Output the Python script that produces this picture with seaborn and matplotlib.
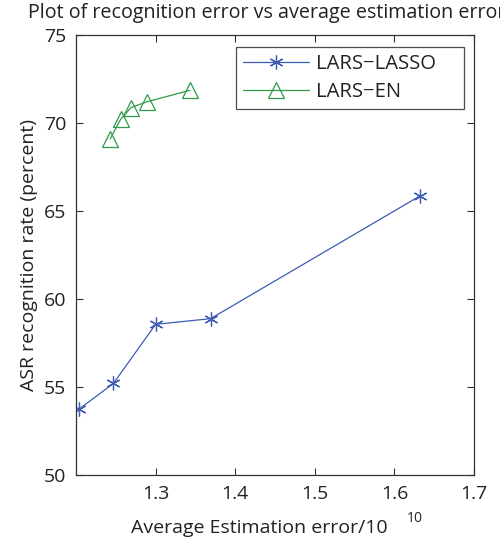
import numpy as np
import pandas as pd
import seaborn as sns
import matplotlib.pyplot as plt

# values
lasso_err = [1.204, 1.247, 1.300, 1.369, 1.632]
lasso_rate = [53.75, 55.2, 58.56, 58.88, 65.85]
en_err = [1.243, 1.256, 1.269, 1.289, 1.343]
en_rate = [69.1, 70.2, 70.87, 71.2, 71.85]
labels = ['LARS\u2212LASSO', 'LARS\u2212EN']

lasso = pd.DataFrame({'err': lasso_err, 'rate': lasso_rate})
en = pd.DataFrame({'err': en_err, 'rate': en_rate})

sns.set_theme(style="ticks")
plt.rcParams['font.family'] = ['Open Sans', 'DejaVu Sans']
plt.rcParams['text.color'] = '#222222'
plt.rcParams['axes.labelcolor'] = '#222222'
plt.rcParams['xtick.color'] = '#333333'
plt.rcParams['ytick.color'] = '#333333'
plt.rcParams['xtick.labelcolor'] = '#222222'
plt.rcParams['ytick.labelcolor'] = '#222222'

blue = '#3d5cb3'
green = '#2f9a4c'

fig = plt.figure(figsize=(5.0, 5.42), dpi=100)
ax = fig.add_axes([0.152, 0.1236, 0.796, 0.812])

sns.lineplot(x='err', y='rate', data=lasso, ax=ax, color=blue, lw=0.9,
             marker=(6, 2, 0), markersize=10, mec=blue, mfc='none', mew=0.9,
             label=labels[0] + '    ')
sns.lineplot(x='err', y='rate', data=en, ax=ax, color=green, lw=0.9,
             marker='^', markersize=11, mec=green, mfc='none', mew=0.9,
             label=labels[1])

ax.set_xlim(1.2, 1.7)
ax.set_ylim(50, 75)
ax.set_xticks([1.3, 1.4, 1.5, 1.6, 1.7])
ax.set_yticks([50, 55, 60, 65, 70, 75])
ax.set_xticklabels(['1.3', '1.4', '1.5', '1.6', '1.7'])
ax.tick_params(direction='in', length=5, width=0.8, labelsize=14,
               top=True, right=True, pad=7)
for s in ax.spines.values():
    s.set_color('#333333')
    s.set_linewidth(0.9)

# title runs slightly past the right edge, as in the original
ax.set_title('Plot of recognition error vs average estimation error',
             fontsize=14.2, pad=12, x=0.479)
ax.set_ylabel('ASR recognition rate (percent)', fontsize=14, labelpad=4)
ax.set_xlabel('Average Estimation error/10', fontsize=14)
ax.xaxis.set_label_coords(0.46, -0.10)
fig.text(407 / 500, 1 - 518 / 542, '10', fontsize=10, ha='left',
         va='center', color='#222222')

leg = ax.legend(loc='upper right', fontsize=14.6, frameon=True, fancybox=False,
                edgecolor='#222222', handlelength=3.25, borderpad=0.35,
                labelspacing=0.42, handletextpad=0.35, borderaxespad=0,
                bbox_to_anchor=(0.975, 0.973))
leg.get_frame().set_linewidth(0.9)

fig.savefig('out.png', dpi=100)
